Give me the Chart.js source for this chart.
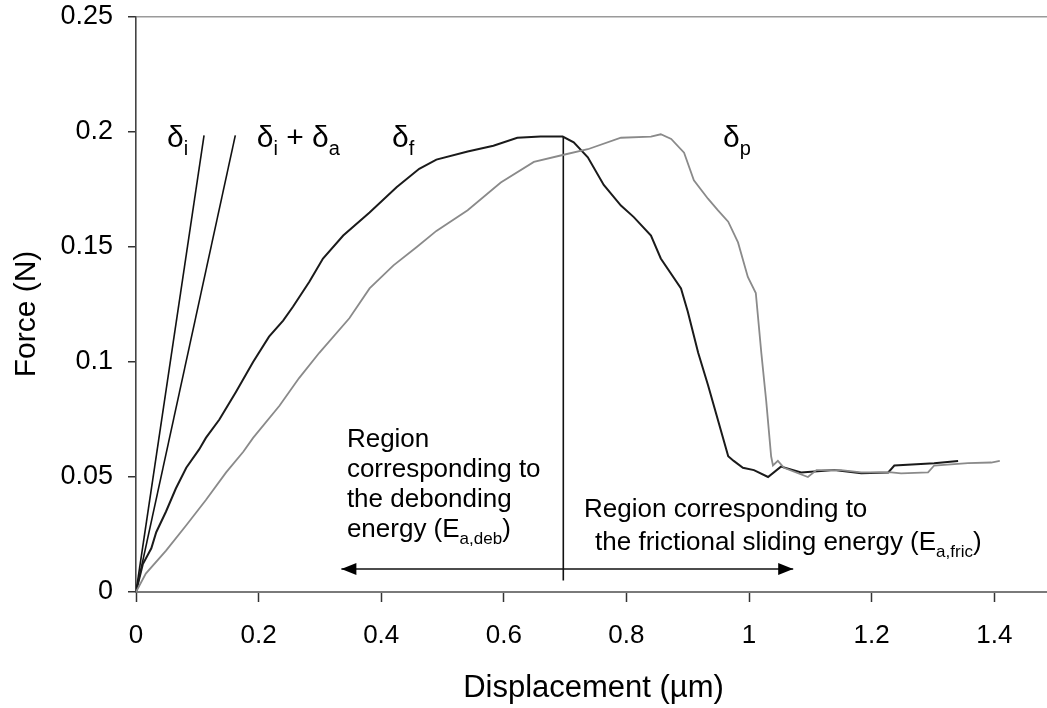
<!DOCTYPE html>
<html><head><meta charset="utf-8">
<script src="https://cdn.jsdelivr.net/npm/chart.js@4.4.1/dist/chart.umd.min.js"></script>
<style>html,body{margin:0;padding:0;background:#fff}#wrap{width:1047px;height:708px}</style>
</head><body><div id="wrap"><canvas id="c" width="1047" height="708"></canvas></div>
<script>
// ---- data ----
const xTicks = [0, 0.2, 0.4, 0.6, 0.8, 1, 1.2, 1.4];
const yTicks = [0, 0.05, 0.1, 0.15, 0.2, 0.25];
const xMax = 1.486;

const deltaIX  = [0, 0.111];
const deltaIY  = [0, 0.1985];
const deltaIAX = [0, 0.162];
const deltaIAY = [0, 0.1985];

const deltaFX = [0, 0.011, 0.025, 0.033, 0.049, 0.065, 0.082, 0.103, 0.114, 0.136, 0.163, 0.191, 0.217, 0.240, 0.256, 0.283, 0.305, 0.338, 0.381, 0.425, 0.462, 0.490, 0.541, 0.583, 0.622, 0.660, 0.696, 0.714, 0.737, 0.763, 0.791, 0.812, 0.840, 0.856, 0.889, 0.900, 0.917, 0.933, 0.949, 0.966, 0.975, 0.990, 1.008, 1.031, 1.052, 1.085, 1.139, 1.183, 1.227, 1.237, 1.302, 1.341];
const deltaFY = [0, 0.012, 0.019, 0.026, 0.035, 0.045, 0.054, 0.062, 0.067, 0.075, 0.087, 0.100, 0.111, 0.118, 0.124, 0.135, 0.145, 0.155, 0.165, 0.176, 0.184, 0.188, 0.1915, 0.194, 0.1975, 0.198, 0.198, 0.1955, 0.189, 0.177, 0.168, 0.163, 0.155, 0.145, 0.132, 0.122, 0.104, 0.090, 0.075, 0.059, 0.057, 0.054, 0.053, 0.050, 0.0545, 0.052, 0.053, 0.0516, 0.052, 0.055, 0.056, 0.057];

const deltaPX = [0, 0.016, 0.049, 0.082, 0.114, 0.147, 0.175, 0.191, 0.234, 0.266, 0.299, 0.348, 0.381, 0.420, 0.458, 0.490, 0.541, 0.595, 0.649, 0.696, 0.737, 0.791, 0.840, 0.856, 0.873, 0.894, 0.910, 0.933, 0.949, 0.966, 0.982, 0.998, 1.011, 1.020, 1.028, 1.036, 1.039, 1.047, 1.057, 1.096, 1.110, 1.150, 1.183, 1.232, 1.248, 1.292, 1.302, 1.357, 1.395, 1.409];
const deltaPY = [0, 0.008, 0.018, 0.029, 0.040, 0.052, 0.061, 0.067, 0.081, 0.093, 0.104, 0.119, 0.132, 0.142, 0.150, 0.157, 0.166, 0.178, 0.187, 0.190, 0.1925, 0.1975, 0.198, 0.199, 0.197, 0.191, 0.179, 0.171, 0.166, 0.161, 0.152, 0.137, 0.130, 0.104, 0.083, 0.059, 0.055, 0.057, 0.054, 0.050, 0.053, 0.053, 0.052, 0.052, 0.0516, 0.052, 0.055, 0.056, 0.0563, 0.057];

const peakLineX = [0.697, 0.697];
const peakLineY = [0.005, 0.198];
const arrowX = [0.335, 1.072];
const arrowY = [0.010, 0.010];

const FONT = "'Liberation Sans', Arial, Helvetica, sans-serif";

function pts(xs, ys) { return xs.map((x, i) => ({x: x, y: ys[i]})); }
function line(data, color, width) {
  return {data: data, showLine: true, borderColor: color, borderWidth: width, pointRadius: 0, fill: false, tension: 0};
}

// rich text with subscripts: parts = [[text, isSub], ...]
function rich(ctx, x, y, parts, main, sub, off) {
  let cx = x;
  ctx.textBaseline = 'alphabetic';
  ctx.textAlign = 'left';
  for (const p of parts) {
    ctx.font = (p[1] ? sub : main) + 'px ' + FONT;
    ctx.fillText(p[0], cx, y + (p[1] ? off : 0));
    cx += ctx.measureText(p[0]).width;
  }
}

const labels = [
  {x: 0.0506, y: 0.1933, parts: [['δ', 0], ['i', 1]], size: 30},
  {x: 0.197,  y: 0.1933, parts: [['δ', 0], ['i', 1], [' + δ', 0], ['a', 1]], size: 30},
  {x: 0.4176, y: 0.1933, parts: [['δ', 0], ['f', 1]], size: 30},
  {x: 0.9576, y: 0.1933, parts: [['δ', 0], ['p', 1]], size: 30},
  {x: 0.344, y: 0.0630, parts: [['Region', 0]], size: 26},
  {x: 0.344, y: 0.0500, parts: [['corresponding to', 0]], size: 26},
  {x: 0.344, y: 0.0369, parts: [['the debonding', 0]], size: 26},
  {x: 0.344, y: 0.0239, parts: [['energy (E', 0], ['a,deb', 1], [')', 0]], size: 26},
  {x: 0.7308, y: 0.0326, parts: [['Region corresponding to', 0]], size: 26},
  {x: 0.7488, y: 0.0182, parts: [['the frictional sliding energy (E', 0], ['a,fric', 1], [')', 0]], size: 26}
];

const annot = {
  id: 'annot',
  afterDatasetsDraw(chart) {
    const ctx = chart.ctx, xs = chart.scales.x, ys = chart.scales.y;
    ctx.save();
    ctx.fillStyle = '#000';
    // arrow heads
    const ay = ys.getPixelForValue(arrowY[0]);
    const lx = xs.getPixelForValue(arrowX[0]), rx = xs.getPixelForValue(arrowX[1]);
    ctx.beginPath(); ctx.moveTo(lx, ay); ctx.lineTo(lx + 15, ay - 6); ctx.lineTo(lx + 15, ay + 6); ctx.closePath(); ctx.fill();
    ctx.beginPath(); ctx.moveTo(rx, ay); ctx.lineTo(rx - 15, ay - 6); ctx.lineTo(rx - 15, ay + 6); ctx.closePath(); ctx.fill();
    // texts
    for (const l of labels) {
      const sub = Math.round(l.size * 0.65);
      rich(ctx, xs.getPixelForValue(l.x), ys.getPixelForValue(l.y), l.parts, l.size, sub, Math.round(l.size * 0.27));
    }
    ctx.restore();
  },
  afterDraw(chart) {
    const ctx = chart.ctx, a = chart.chartArea;
    ctx.save();
    ctx.fillStyle = '#000';
    ctx.textAlign = 'center';
    ctx.textBaseline = 'middle';
    ctx.font = '31px ' + FONT;
    ctx.fillText('Displacement (µm)', (a.left + a.right) / 2 + 2, 688);
    ctx.translate(27, 314);
    ctx.rotate(-Math.PI / 2);
    ctx.font = '30px ' + FONT;
    ctx.fillText('Force (N)', 0, 0);
    ctx.restore();
  }
};

new Chart(document.getElementById('c'), {
  type: 'scatter',
  data: {datasets: [
    line(pts(deltaPX, deltaPY), '#8a8a8a', 1.8),
    line(pts(deltaFX, deltaFY), '#1a1a1a', 2),
    line(pts(deltaIX, deltaIY), '#111', 1.6),
    line(pts(deltaIAX, deltaIAY), '#111', 1.6),
    line(pts(peakLineX, peakLineY), '#111', 1.6),
    line(pts(arrowX, arrowY), '#111', 1.6)
  ]},
  options: {
    responsive: false, animation: false, devicePixelRatio: 1,
    layout: {padding: {left: 0, right: 0, top: 17, bottom: 0}},
    plugins: {legend: {display: false}, tooltip: {enabled: false}},
    scales: {
      x: {
        type: 'linear', min: 0, max: xMax,
        afterBuildTicks: s => { s.ticks = xTicks.map(v => ({value: v})); },
        afterFit: s => { s.height = 116; s.paddingLeft = 0; s.paddingRight = 0; },
        grid: {drawOnChartArea: false, drawTicks: true, tickLength: 10, tickColor: '#333', tickWidth: 1.5},
        border: {display: true, color: '#7a7a7a', width: 2},
        ticks: {color: '#000', font: {family: FONT, size: 26}, padding: 18, maxRotation: 0, autoSkip: false, callback: v => String(v)}
      },
      y: {
        type: 'linear', min: 0, max: 0.25,
        afterBuildTicks: s => { s.ticks = yTicks.map(v => ({value: v})); },
        afterFit: s => { s.width = 136; s.paddingTop = 0; s.paddingBottom = 0; },
        grid: {drawOnChartArea: true, drawTicks: true, tickLength: 8, tickColor: '#333', tickWidth: 1.5,
               lineWidth: 1.5, color: c => (c.tick && c.tick.value === 0.25) ? '#9a9a9a' : 'rgba(0,0,0,0)'},
        border: {display: true, color: '#444', width: 1.6},
        ticks: {color: '#000', font: {family: FONT, size: 27}, padding: 15, autoSkip: false, callback: v => String(v)}
      }
    }
  },
  plugins: [annot]
});
</script>
</body></html>
